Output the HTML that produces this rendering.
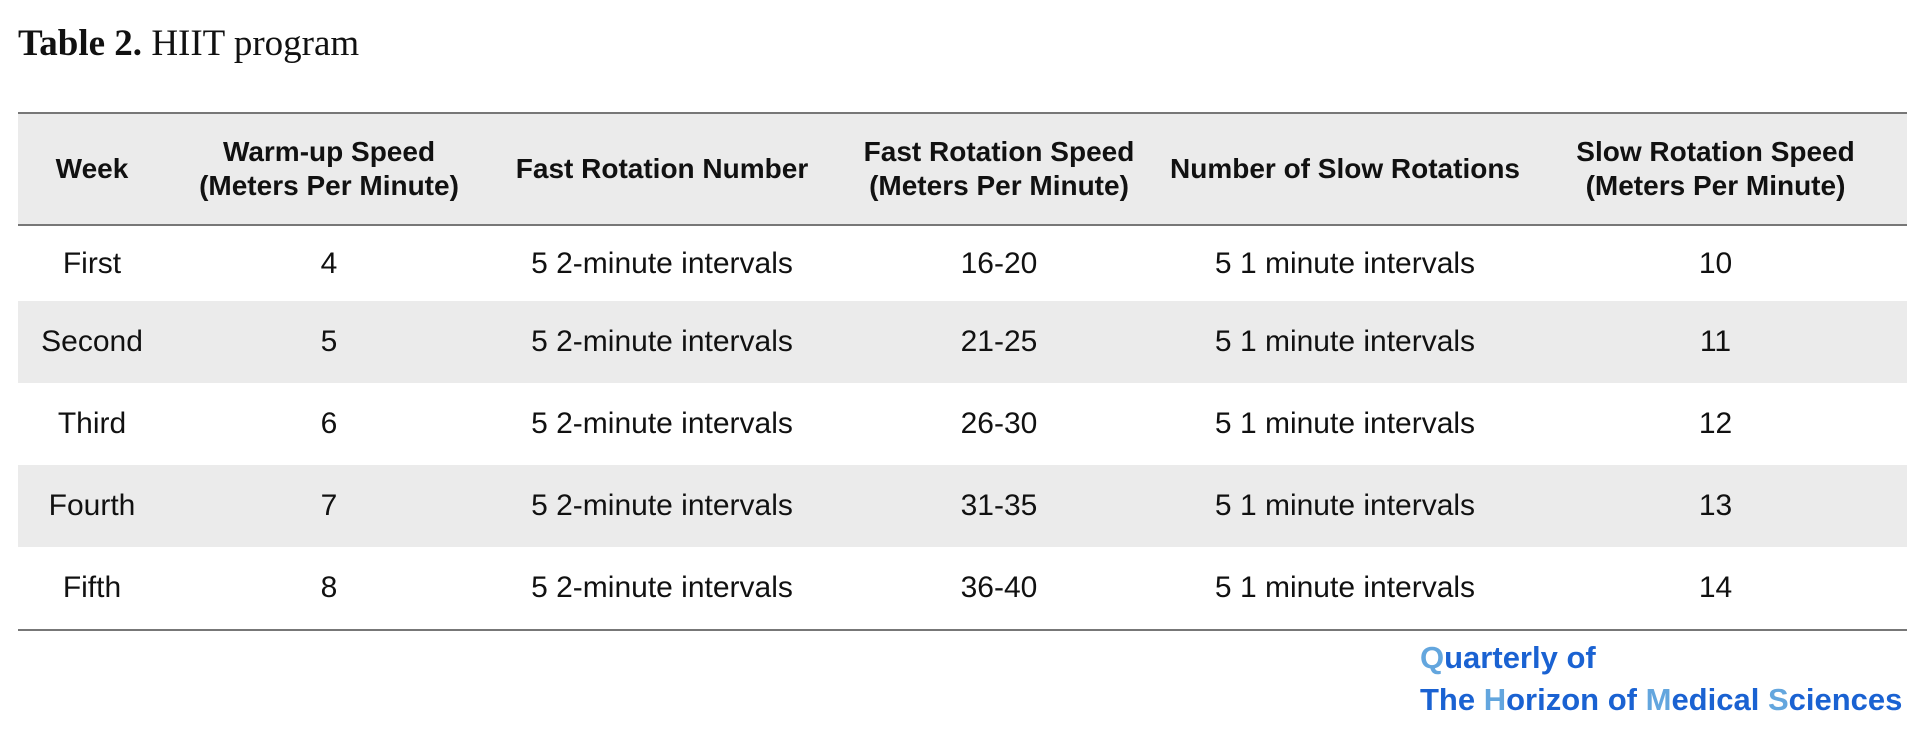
<!DOCTYPE html>
<html><head><meta charset="utf-8"><style>
body{margin:0;width:1919px;height:734px;background:#fff;position:relative;overflow:hidden;font-family:"Liberation Sans",sans-serif;}
#title{position:absolute;left:18px;top:22px;font-family:"Liberation Serif",serif;font-size:37px;color:#111;}
table{position:absolute;left:18px;top:112px;width:1889px;border-collapse:collapse;}
th,td{text-align:center;color:#111;padding:0;}
th{font-size:28px;font-weight:bold;height:110px;background:#ebebeb;border-top:2px solid #777;border-bottom:2px solid #777;line-height:34px;}
td{font-size:30px;height:82px;}
tr.first td{height:75px;}
tr.sh td{background:#ebebeb;}
tbody tr:last-child td{border-bottom:2px solid #777;}
#foot{position:absolute;left:1420px;top:637px;font-size:31px;font-weight:bold;color:#1a62d2;line-height:42px;}
.l{color:#63a6de;}
</style></head><body>
<div id="title"><b>Table 2.</b> HIIT program</div>
<table>
<colgroup><col style="width:148px"><col style="width:326px"><col style="width:340px"><col style="width:334px"><col style="width:358px"><col style="width:383px"></colgroup>
<thead><tr>
<th>Week</th>
<th>Warm-up Speed<br>(Meters Per Minute)</th>
<th>Fast Rotation Number</th>
<th>Fast Rotation Speed<br>(Meters Per Minute)</th>
<th>Number of Slow Rotations</th>
<th>Slow Rotation Speed<br>(Meters Per Minute)</th>
</tr></thead>
<tbody>
<tr class="first"><td>First</td><td>4</td><td>5 2-minute intervals</td><td>16-20</td><td>5 1 minute intervals</td><td>10</td></tr>
<tr class="sh"><td>Second</td><td>5</td><td>5 2-minute intervals</td><td>21-25</td><td>5 1 minute intervals</td><td>11</td></tr>
<tr><td>Third</td><td>6</td><td>5 2-minute intervals</td><td>26-30</td><td>5 1 minute intervals</td><td>12</td></tr>
<tr class="sh"><td>Fourth</td><td>7</td><td>5 2-minute intervals</td><td>31-35</td><td>5 1 minute intervals</td><td>13</td></tr>
<tr><td>Fifth</td><td>8</td><td>5 2-minute intervals</td><td>36-40</td><td>5 1 minute intervals</td><td>14</td></tr>
</tbody></table>
<div id="foot"><span class="l">Q</span>uarterly of<br>The <span class="l">H</span>orizon of <span class="l">M</span>edical <span class="l">S</span>ciences</div>
</body></html>
